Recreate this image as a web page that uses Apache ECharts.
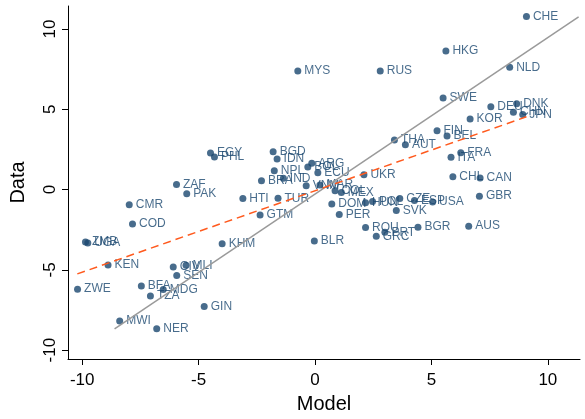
<!DOCTYPE html>
<html>
<head>
<meta charset="utf-8">
<script src="https://cdn.jsdelivr.net/npm/echarts@6/dist/echarts.min.js"></script>
<style>
html,body{margin:0;padding:0;background:#fff;}
#chart{width:585px;height:419px;}
</style>
</head>
<body>
<div id="chart"></div>
<script>
// Country codes
const countries = ["CHE","HKG","NLD","MYS","RUS","SWE","DEU","DNK","CHN","JPN","KOR","FIN","BEL","THA","AUT","FRA","ITA","CHL","CAN","GBR","USA","ESP","CZE","SVK","HUN","POL","BGR","ROU","PRT","GRC","AUS","UKR","PER","DOM","BLR","COL","MEX","MAR","VNM","ECU","BOL","ARG","IND","NPL","BRA","IDN","BGD","TUR","HTI","GTM","KHM","EGY","PHL","ZAF","PAK","CMR","COD","ZMB","UGA","KEN","ZWE","BFA","TZA","MDG","CIV","MLI","SEN","GIN","MWI","NER"];
// Model values (x)
const modelValues = [9.08,5.62,8.36,-0.74,2.80,5.50,7.55,8.66,8.52,8.92,6.66,5.24,5.67,3.41,3.88,6.26,5.84,5.92,7.09,7.06,5.05,4.27,3.64,3.49,2.17,2.47,4.42,2.17,3.00,2.63,6.60,2.10,1.04,0.72,-0.03,0.86,1.13,0.21,-0.38,0.12,-0.31,-0.14,-1.36,-1.75,-2.30,-1.63,-1.80,-1.59,-3.10,-2.36,-3.99,-4.49,-4.32,-5.95,-5.51,-7.98,-7.84,-9.86,-9.76,-8.89,-10.20,-7.46,-7.07,-6.52,-6.09,-5.54,-5.94,-4.76,-8.39,-6.80];
// Data values (y)
const dataValues = [10.77,8.63,7.61,7.38,7.38,5.70,5.15,5.34,4.82,4.68,4.39,3.67,3.34,3.08,2.79,2.30,2.01,0.80,0.72,-0.41,-0.77,-0.68,-0.55,-1.31,-0.82,-0.74,-2.34,-2.36,-2.66,-2.91,-2.28,0.92,-1.56,-0.90,-3.20,-0.08,-0.18,0.28,0.23,1.05,1.40,1.64,0.70,1.17,0.55,1.91,2.36,-0.54,-0.55,-1.58,-3.38,2.28,2.03,0.31,-0.26,-0.94,-2.14,-3.26,-3.32,-4.70,-6.20,-6.01,-6.63,-6.23,-4.82,-4.72,-5.35,-7.28,-8.18,-8.66];
// Fitted lines (end points)
const grayFitX = [-8.61, 11.32];
const grayFitY = [-8.68, 10.75];
const orangeFitX = [-10.21, 9.08];
const orangeFitY = [-5.25, 4.53];
// Tick labels
const tickValues = [-10, -5, 0, 5, 10];

const pts = countries.map((c, i) => [modelValues[i], dataValues[i], c]);
const navy = '#1a476f';
const font = 'Liberation Sans, Arial, Helvetica, sans-serif';

const chart = echarts.init(document.getElementById('chart'), null, {renderer: 'canvas'});
chart.setOption({
  animation: false,
  backgroundColor: '#fff',
  grid: {left: 64, right: 5, top: 6, bottom: 56, containLabel: false, show: false},
  xAxis: {
    type: 'value', min: -10.61, max: 11.38,
    name: 'Model', nameLocation: 'middle', nameGap: 35,
    nameTextStyle: {fontFamily: font, fontSize: 20, color: '#000'},
    axisLine: {show: true, onZero: false, lineStyle: {color: '#000', width: 1}},
    axisTick: {show: true, customValues: tickValues, length: 6, lineStyle: {color: '#000'}},
    axisLabel: {customValues: tickValues, fontFamily: font, fontSize: 17, color: '#000', margin: 13},
    splitLine: {show: false}
  },
  yAxis: {
    type: 'value', min: -10.55, max: 11.43,
    name: 'Data', nameLocation: 'middle', nameGap: 40, nameRotate: 90,
    nameTextStyle: {fontFamily: font, fontSize: 20, color: '#000'},
    axisLine: {show: true, onZero: false, lineStyle: {color: '#000', width: 1}},
    axisTick: {show: true, customValues: tickValues, length: 6, lineStyle: {color: '#000'}},
    axisLabel: {customValues: tickValues, rotate: 90, fontFamily: font, fontSize: 17, color: '#000', margin: 9},
    splitLine: {show: false}
  },
  series: [
    {
      type: 'scatter', data: pts, symbolSize: 7, z: 2,
      itemStyle: {color: navy},
      label: {show: true, position: 'right', distance: 3, formatter: p => p.data[2],
        fontFamily: font, fontSize: 12, color: navy},
      labelLayout: {hideOverlap: false}
    },
    {
      type: 'line', data: grayFitX.map((x, i) => [x, grayFitY[i]]), showSymbol: false, z: 3,
      lineStyle: {color: '#9a9a9a', width: 1.5}
    },
    {
      type: 'line', data: orangeFitX.map((x, i) => [x, orangeFitY[i]]), showSymbol: false, z: 3,
      lineStyle: {color: '#ff5a1e', width: 1.5, type: [8, 5]}
    }
  ]
});
</script>
</body>
</html>
